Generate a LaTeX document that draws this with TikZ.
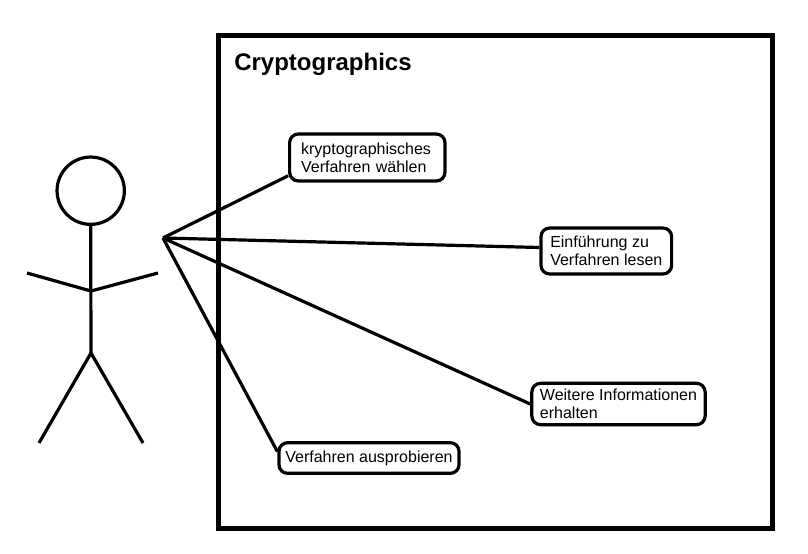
\documentclass[tikz,border=0pt]{standalone}
\usepackage{fontspec}
\setmainfont{Liberation Sans}
\usetikzlibrary{positioning}

\begin{document}
\begin{tikzpicture}[
			x = .75pt,
			y = -.75pt,
			limb/.style = {line width=2.4pt},
			usecase/.style = {draw,fill=white,line width=2.4pt,rounded corners=6.5pt,align=left,font=\fontsize{12}{13.5}\selectfont,inner sep=0pt}
		]
			\useasboundingbox (0,0) rectangle (808,554);

			\node[draw,line width=3.75pt,minimum width=415.5pt,minimum height=370pt,inner sep=0pt] (system) at (495.5,281.75) {};
			\node[font=\fontsize{18}{20}\selectfont\bfseries,inner sep=0pt,anchor=base west] (title) at (234,70) {Cryptographics};

			\node[usecase,text width=99.3pt,inner xsep=8.6pt,minimum height=35.2pt] (waehlen) at (367.3,157.5) {kryptographisches\\Verfahren wählen};
			\node[usecase,minimum width=98pt,minimum height=34.5pt] (einfuehrung) at (606.3,251) {Einführung zu\\Verfahren lesen};
			\node[usecase,minimum width=130pt,minimum height=31pt] (weitere) at (618.5,404) {Weitere Informationen\\erhalten};
			\node[usecase,minimum width=135pt,minimum height=23pt] (ausprobieren) at (369,458) {Verfahren ausprobieren};

			% actor
			\node[draw,circle,line width=2.4pt,minimum size=50.5pt,inner sep=0pt] (head) at (90.7,190.7) {};
			\coordinate (hip) at (91,353);
			\coordinate (chest) at (91,291);
			\coordinate (hub) at (163,238);
			\draw[limb] (head.south) -- (hip);
			\draw[limb] (27,273) -- (chest) -- (158,273);
			\draw[limb] (39,443) -- (hip) -- (143,443);

			% connectors
			\foreach \target/\side in {waehlen/193,einfuehrung/177,weitere/180,ausprobieren/176}
				\draw[limb] (hub) -- (\target.\side);
		\end{tikzpicture}
\end{document}
